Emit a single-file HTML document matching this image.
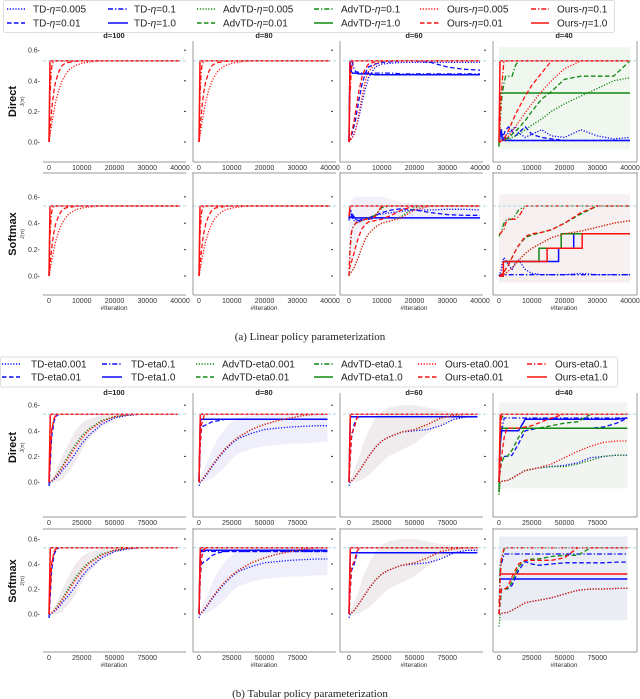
<!DOCTYPE html>
<html><head><meta charset="utf-8"><style>
html,body{margin:0;padding:0;background:#fff;}
svg{display:block;font-family:"Liberation Sans",sans-serif;}
.lg{font-size:10px;fill:#222;}
.tt{font-size:7.5px;font-weight:bold;fill:#222;}
.tk{font-size:7px;fill:#333;}
.cap{font-family:"Liberation Serif",serif;font-size:11px;fill:#222;}
</style></head><body>
<svg id="fig" width="640" height="699" viewBox="0 0 640 699" xmlns="http://www.w3.org/2000/svg">
<rect x="0" y="0" width="640" height="699" fill="#fff"/>
<g id="legendA"></g>
<g id="legendB"></g>
<g id="plots"></g>
<text class="cap" x="310" y="340" text-anchor="middle">(a) Linear policy parameterization</text>
<text class="cap" x="310" y="697" text-anchor="middle">(b) Tabular policy parameterization</text>
</svg>
<script>
// ---------- data: linear (top figure), iterations grid ----------
const GA = [0,300,700,1000,1500,2000,3000,4000,5000,6000,8000,10000,13000,16000,20000,25000,30000,35000,40000];
const L_ours1   = [0,.53,.53,.53,.53,.53,.53,.53,.53,.53,.53,.53,.53,.53,.53,.53,.53,.53,.53];
const L_ours01  = [0,.30,.47,.51,.53,.53,.53,.53,.53,.53,.53,.53,.53,.53,.53,.53,.53,.53,.53];
const L_ours001 = [0,.08,.18,.25,.33,.39,.46,.50,.515,.52,.527,.53,.53,.53,.53,.53,.53,.53,.53];
const L_ours0005= [0,.04,.10,.14,.20,.26,.34,.40,.44,.47,.50,.515,.525,.53,.53,.53,.53,.53,.53];
// d=60 direct
const D60_td1   = [0,.53,.46,.45,.45,.45,.445,.445,.445,.445,.44,.44,.44,.44,.44,.44,.44,.44,.44];
const D60_td01  = [0,.53,.53,.52,.48,.46,.455,.45,.45,.45,.45,.45,.45,.445,.445,.445,.445,.445,.445];
const D60_td001 = [0,.02,.04,.06,.10,.15,.27,.38,.45,.49,.51,.52,.525,.53,.53,.52,.49,.475,.47];
const D60_td0005= [0,.01,.02,.03,.05,.08,.16,.26,.35,.42,.49,.51,.515,.52,.52,.52,.52,.52,.52];
const D60_ours001 = [0,.02,.05,.08,.13,.20,.33,.43,.48,.51,.525,.53,.53,.53,.53,.53,.53,.53,.53];
const D60_ours0005= [0,.01,.02,.03,.05,.08,.18,.30,.40,.46,.51,.525,.53,.53,.53,.53,.53,.53,.53];
// d=40 direct
const D40_ours01 = [0,.10,.30,.40,.53,.53,.53,.53,.53,.53,.53,.53,.53,.53,.53,.53,.53,.53,.53];
const D40_adv01  = [0,.10,.25,.32,.38,.43,.43,.43,.50,.53,.53,.53,.53,.53,.53,.53,.53,.53,.53];
const D40_ours001= [0,0,.01,.01,.02,.04,.08,.13,.18,.22,.30,.37,.45,.53,.53,.53,.53,.53,.53];
const D40_ours0005=[0,0,.01,.01,.01,.02,.04,.07,.10,.13,.19,.25,.33,.40,.48,.53,.53,.53,.53];
const D40_adv001 = [0,0,.01,.01,.01,.02,.03,.05,.07,.09,.14,.20,.28,.33,.41,.43,.43,.43,.53];
const D40_adv0005= [0,0,.01,.01,.01,.01,.02,.03,.04,.05,.08,.11,.15,.20,.25,.30,.35,.40,.42];
const D40_adv1   = [-.03,.32,.32,.32,.32,.32,.32,.32,.32,.32,.32,.32,.32,.32,.32,.32,.32,.32,.32];
const D40_td1    = [0,.05,.08,.02,.01,.01,.01,.01,.01,.01,.01,.01,.01,.01,.01,.01,.01,.01,.01];
const D40_td01   = [0,.08,.05,.02,.02,.03,.02,.01,.01,.01,.01,.01,.01,.01,.01,.01,.01,.01,.01];
const D40_td001  = [0,.03,.06,.04,.05,.08,.10,.07,.04,.06,.10,.05,.03,.02,.01,.01,.01,.01,.01];
const D40_td0005 = [0,.02,.04,.05,.03,.04,.06,.08,.10,.06,.03,.05,.08,.04,.03,.08,.04,.02,.03];
// softmax d=60
const S60_td1    = [.45,.44,.45,.44,.44,.44,.44,.44,.44,.44,.44,.44,.44,.44,.44,.44,.44,.44,.44];
const S60_td01   = [.45,.50,.48,.45,.44,.43,.42,.43,.43,.43,.44,.44,.44,.44,.44,.44,.44,.44,.44];
const S60_td001  = [.43,.50,.49,.47,.45,.43,.42,.42,.43,.44,.46,.48,.50,.51,.50,.48,.465,.46,.46];
const S60_td0005 = [.42,.47,.46,.44,.42,.41,.41,.42,.43,.44,.46,.47,.48,.49,.50,.50,.505,.505,.50];
const S60_ours1  = [.45,.53,.53,.53,.53,.53,.53,.53,.53,.53,.53,.53,.53,.53,.53,.53,.53,.53,.53];
const S60_ours01 = [0,.20,.32,.36,.38,.40,.41,.42,.43,.43,.45,.53,.53,.53,.53,.53,.53,.53,.53];
const S60_adv01  = [0,.20,.32,.36,.38,.40,.41,.42,.43,.44,.46,.52,.53,.53,.53,.53,.53,.53,.53];
const S60_ours001= [.05,.07,.10,.13,.17,.22,.30,.36,.39,.41,.42,.43,.46,.50,.53,.53,.53,.53,.53];
const S60_ours0005=[.01,.02,.03,.04,.06,.09,.15,.22,.28,.32,.37,.40,.42,.44,.50,.53,.53,.53,.53];
const S60_adv0005= [.01,.02,.03,.04,.06,.09,.15,.22,.28,.32,.37,.40,.42,.45,.52,.53,.53,.53,.53];
// softmax d=40 (steps use own x)
const S40_ours1_x = [0,1300,1300,14700,14700,25400,25400,40000];
const S40_ours1_y = [0,0,.11,.11,.21,.21,.32,.32];
const S40_adv1_x  = [0,1300,1300,12200,12200,19000,19000,40000];
const S40_adv1_y  = [0,0,.11,.11,.21,.21,.32,.32];
const S40_td1_x   = [0,1300,1300,18200,18200,22800,22800,25400];
const S40_td1_y   = [0,0,.11,.11,.21,.21,.32,.32];
const S40_td01    = [0,.01,.01,.01,.01,.01,.01,.01,.01,.01,.01,.01,.01,.01,.01,.01,.01,.01,.01];
const S40_td0005  = [0,.02,.05,.10,.14,.12,.08,.05,.10,.12,.05,.02,.01,.01,.01,.02,.01,.01,.01];
const S40_ours01  = [.32,.32,.33,.34,.35,.40,.43,.43,.43,.45,.53,.53,.53,.53,.53,.53,.53,.53,.53];
const S40_adv01   = [.30,.32,.33,.36,.40,.42,.43,.43,.46,.50,.53,.53,.53,.53,.53,.53,.53,.53,.53];
const S40_ours001 = [0,0,.01,.02,.03,.05,.09,.14,.19,.23,.30,.32,.33,.35,.40,.48,.53,.53,.53];
const S40_adv001  = [0,0,.01,.02,.03,.05,.09,.14,.19,.23,.29,.31,.33,.35,.40,.47,.53,.53,.53];
const S40_ours0005= [0,0,0,.01,.01,.02,.04,.06,.09,.12,.17,.21,.25,.29,.32,.34,.37,.40,.42];
// ---------- data: tabular (bottom figure) ----------
const GB = [0,1000,2000,4000,6000,8000,10000,15000,20000,25000,30000,40000,50000,60000,70000,80000,90000,98000];
const T_ours1   = [0,.53,.53,.53,.53,.53,.53,.53,.53,.53,.53,.53,.53,.53,.53,.53,.53,.53];
const T100_dash = [0,.20,.40,.50,.53,.53,.53,.53,.53,.53,.53,.53,.53,.53,.53,.53,.53,.53];
const T100_bdash= [-.03,.15,.35,.48,.52,.53,.53,.53,.53,.53,.53,.53,.53,.53,.53,.53,.53,.53];
const T100_rdot = [0,.005,.01,.03,.05,.08,.11,.19,.27,.34,.40,.47,.51,.525,.53,.53,.53,.53];
const T100_gdot = [0,.005,.01,.03,.06,.09,.12,.21,.29,.36,.41,.48,.51,.525,.53,.53,.53,.53];
const T100_bdot = [-.03,0,.005,.02,.04,.06,.09,.15,.22,.30,.36,.45,.50,.52,.53,.53,.53,.53];
const T80_b1    = [0,.49,.49,.49,.49,.49,.49,.49,.49,.49,.49,.49,.49,.49,.49,.49,.49,.49];
const T80_b01   = [0,.45,.49,.49,.49,.49,.49,.49,.49,.49,.49,.49,.49,.49,.49,.49,.49,.49];
const T80_bdash = [0,.30,.43,.44,.45,.46,.47,.48,.49,.49,.49,.49,.49,.49,.49,.49,.49,.49];
const T80_rdash = [0,.30,.45,.52,.53,.53,.53,.53,.53,.53,.53,.53,.53,.53,.53,.53,.53,.53];
const T80_dot   = [0,.005,.01,.04,.07,.10,.13,.20,.26,.31,.35,.41,.45,.48,.50,.52,.53,.53];
const T80_bdot  = [-.03,0,.01,.03,.06,.09,.12,.19,.25,.30,.34,.38,.41,.42,.43,.435,.44,.44];
const T60_b1    = [0,.51,.51,.51,.51,.51,.51,.51,.51,.51,.51,.51,.51,.51,.51,.51,.51,.51];
const T60_rdash = [0,.20,.38,.42,.50,.53,.53,.53,.53,.53,.53,.53,.53,.53,.53,.53,.53,.53];
const T60_bdash = [0,.20,.35,.45,.50,.51,.51,.51,.51,.51,.51,.51,.51,.51,.51,.51,.51,.51];
const T60_dot   = [0,.005,.01,.03,.06,.09,.12,.20,.27,.32,.35,.39,.41,.45,.50,.52,.53,.53];
const T60_bdot  = [-.03,0,.01,.03,.06,.09,.12,.20,.27,.32,.35,.39,.40,.41,.44,.49,.51,.51];
const T40_g1    = [-.08,.42,.42,.42,.42,.42,.42,.42,.42,.42,.42,.42,.42,.42,.42,.42,.42,.42];
const T40_b1    = [0,.30,.40,.40,.40,.40,.40,.40,.49,.49,.49,.49,.49,.49,.49,.49,.49,.50];
const T40_b01   = [0,.35,.40,.50,.50,.50,.50,.50,.50,.50,.50,.50,.50,.50,.50,.50,.50,.50];
const T40_r01   = [0,.40,.53,.53,.53,.53,.53,.53,.53,.53,.53,.53,.53,.53,.53,.53,.53,.53];
const T40_g01   = [0,.42,.50,.53,.53,.53,.53,.53,.53,.53,.53,.53,.53,.53,.53,.53,.53,.53];
const T40_rdash = [0,.10,.20,.35,.42,.42,.42,.42,.43,.44,.46,.50,.53,.53,.53,.53,.53,.53];
const T40_gdash = [0,.10,.15,.20,.20,.22,.25,.35,.42,.42,.42,.44,.46,.47,.53,.53,.53,.53];
const T40_bdash = [0,.10,.20,.20,.20,.20,.21,.30,.40,.41,.42,.42,.42,.42,.42,.43,.46,.50];
const T40_rdot  = [0,0,.005,.01,.01,.02,.03,.06,.09,.10,.11,.14,.19,.24,.28,.31,.32,.32];
const T40_gdot  = [-.1,0,.005,.01,.01,.02,.03,.06,.09,.10,.11,.12,.12,.14,.17,.20,.21,.21];
const T40_bdot  = [0,0,.005,.01,.01,.02,.03,.06,.09,.10,.11,.12,.13,.15,.19,.20,.21,.21];
const U80_b1    = [0,.51,.51,.51,.51,.51,.51,.51,.51,.51,.51,.51,.51,.51,.51,.51,.51,.51];
const U80_b01   = [0,.45,.50,.50,.50,.50,.50,.50,.50,.50,.50,.50,.50,.50,.50,.50,.50,.50];
const U80_bdash = [0,.30,.40,.42,.43,.45,.47,.49,.50,.50,.50,.50,.50,.50,.50,.50,.50,.50];
const U60_b1    = [0,.49,.49,.49,.49,.49,.49,.49,.49,.49,.49,.49,.49,.49,.49,.49,.49,.49];
const U60_bdash = [0,.20,.35,.40,.48,.49,.49,.49,.49,.49,.49,.49,.49,.49,.49,.49,.49,.49];
const U40_r1    = [.32,.32,.32,.32,.32,.32,.32,.32,.32,.32,.32,.32,.32,.32,.32,.32,.32,.32];
const U40_b1    = [.28,.28,.28,.28,.28,.28,.28,.28,.28,.28,.28,.28,.28,.28,.28,.28,.28,.28];
const U40_b01   = [0,.41,.41,.48,.48,.48,.48,.48,.48,.48,.48,.48,.48,.48,.48,.48,.48,.48];
const U40_r01   = [0,.30,.45,.53,.53,.53,.53,.53,.53,.53,.53,.53,.53,.53,.53,.53,.53,.53];
const U40_g01   = [0,.40,.44,.52,.53,.53,.53,.53,.53,.53,.53,.53,.53,.53,.53,.53,.53,.53];
const U40_rdash = [0,.15,.20,.20,.21,.25,.30,.40,.43,.43,.43,.43,.45,.53,.53,.53,.53,.53];
const U40_gdash = [0,.10,.20,.20,.20,.22,.26,.38,.43,.44,.44,.46,.47,.47,.53,.53,.53,.53];
const U40_bdash = [0,.10,.20,.20,.20,.21,.23,.35,.42,.40,.39,.40,.41,.41,.41,.41,.415,.415];
const U40_dot   = [0,0,.005,.01,.01,.02,.03,.06,.09,.10,.11,.13,.16,.19,.20,.20,.205,.205];
const U40_gdot  = [-.1,0,.005,.01,.01,.02,.03,.06,.09,.10,.11,.13,.16,.19,.20,.20,.205,.205];
// bands
const B100_lo = [0,0,0,0,0,.01,.02,.08,.15,.25,.33,.43,.49,.52,.53,.53,.53,.53];
const B100_hi = [0,.01,.02,.06,.10,.15,.20,.30,.40,.46,.49,.52,.53,.53,.53,.53,.53,.53];
const B80_lo  = [0,0,0,0,.01,.02,.03,.07,.12,.18,.22,.26,.28,.29,.30,.30,.31,.31];
const B80_hi  = [0,.02,.05,.10,.15,.20,.25,.35,.42,.47,.50,.52,.53,.53,.53,.53,.53,.53];
const B60_lo  = [0,0,0,0,0,.01,.02,.05,.10,.15,.20,.25,.30,.38,.45,.48,.50,.50];
const B60_hi  = [0,.02,.04,.10,.15,.20,.28,.40,.50,.55,.58,.60,.60,.58,.56,.54,.53,.53];
const B40_lo  = [-.05,-.05,-.05,-.05,-.05,-.05,-.05,-.05,-.05,-.05,-.05,-.05,-.05,-.05,-.05,-.05,-.05,-.05];
const B40_hi  = [.62,.62,.62,.62,.62,.62,.62,.62,.62,.62,.62,.62,.62,.62,.62,.62,.62,.62];
const BA40_lo = [-.05,-.05,-.05,-.05,-.05,-.05,-.05,-.05,-.05,-.05,-.05,-.05,-.05,-.05,-.05,-.05,-.05,-.05,-.05];
const BA40_hi = [.62,.62,.62,.62,.62,.62,.62,.62,.62,.62,.62,.62,.62,.62,.62,.62,.62,.62,.62];
const BA60_lo = [0,.02,.05,.1,.15,.2,.3,.36,.38,.4,.41,.42,.42,.42,.42,.42,.42,.42,.42];
const BA60_hi = [.45,.5,.55,.58,.6,.6,.6,.6,.6,.6,.6,.6,.58,.56,.55,.54,.54,.54,.54];
const yTicks = [0,0.2,0.4,0.6];
const yTickLabels = ["0.0","0.2","0.4","0.6"];
const xTicksA = [0,10000,20000,30000,40000];
const xTicksB = [0,25000,50000,75000];
const panelTitles = ["d=100","d=80","d=60","d=40"];
const refLevel = 0.53;

// ---------- styles ----------
const BLUE='#0a0aff', GREEN='#118811', RED='#ff1010';
const DASH={dot:'1.2,1.6',dash:'4.5,2.5',dd:'5,2,1.3,2',solid:''};
function S(xs,ys,c,st){return {xs:xs,ys:ys,c:c,st:st};}

const linD100=[S(GA,L_ours0005,RED,'dot'),S(GA,L_ours001,RED,'dash'),S(GA,L_ours01,RED,'dd'),S(GA,L_ours1,RED,'solid')];
const linD60=[S(GA,D60_td0005,BLUE,'dot'),S(GA,D60_td001,BLUE,'dash'),S(GA,D60_td01,BLUE,'dd'),S(GA,D60_td1,BLUE,'solid'),
 S(GA,D60_ours0005,RED,'dot'),S(GA,D60_ours001,RED,'dash'),S(GA,L_ours01,RED,'dd'),S(GA,L_ours1,RED,'solid')];
const linD40=[S(GA,D40_td0005,BLUE,'dot'),S(GA,D40_td001,BLUE,'dash'),S(GA,D40_td01,BLUE,'dd'),S(GA,D40_td1,BLUE,'solid'),
 S(GA,D40_adv0005,GREEN,'dot'),S(GA,D40_adv001,GREEN,'dash'),S(GA,D40_adv01,GREEN,'dd'),S(GA,D40_adv1,GREEN,'solid'),
 S(GA,D40_ours0005,RED,'dot'),S(GA,D40_ours001,RED,'dash'),S(GA,D40_ours01,RED,'dd'),S(GA,L_ours1,RED,'solid')];
const linS60=[S(GA,S60_td0005,BLUE,'dot'),S(GA,S60_td001,BLUE,'dash'),S(GA,S60_td01,BLUE,'dd'),S(GA,S60_td1,BLUE,'solid'),
 S(GA,S60_adv0005,GREEN,'dot'),S(GA,S60_adv01,GREEN,'dd'),
 S(GA,S60_ours0005,RED,'dot'),S(GA,S60_ours001,RED,'dash'),S(GA,S60_ours01,RED,'dd'),S(GA,S60_ours1,RED,'solid')];
const linS40=[S(GA,S40_td0005,BLUE,'dot'),S(GA,S40_td01,BLUE,'dd'),S(S40_td1_x,S40_td1_y,BLUE,'solid'),
 S(GA,S40_ours0005,GREEN,'dot'),S(GA,S40_adv001,GREEN,'dash'),S(GA,S40_adv01,GREEN,'dd'),S(S40_adv1_x,S40_adv1_y,GREEN,'solid'),
 S(GA,S40_ours0005,RED,'dot'),S(GA,S40_ours001,RED,'dash'),S(GA,S40_ours01,RED,'dd'),S(S40_ours1_x,S40_ours1_y,RED,'solid')];
const tab100=[S(GB,T100_bdot,BLUE,'dot'),S(GB,T100_bdash,BLUE,'dash'),S(GB,T100_gdot,GREEN,'dot'),
 S(GB,T100_rdot,RED,'dot'),S(GB,T100_dash,RED,'dash'),S(GB,T100_dash,RED,'dd'),S(GB,T_ours1,RED,'solid')];
const tabD80=[S(GB,T80_bdot,BLUE,'dot'),S(GB,T80_bdash,BLUE,'dash'),S(GB,T80_b01,BLUE,'dd'),S(GB,T80_b1,BLUE,'solid'),
 S(GB,T80_dot,GREEN,'dot'),S(GB,T80_dot,RED,'dot'),S(GB,T80_rdash,RED,'dash'),S(GB,T_ours1,RED,'solid')];
const tabD60=[S(GB,T60_bdot,BLUE,'dot'),S(GB,T60_bdash,BLUE,'dash'),S(GB,T60_b1,BLUE,'solid'),
 S(GB,T60_dot,GREEN,'dot'),S(GB,T60_dot,RED,'dot'),S(GB,T60_rdash,RED,'dash'),S(GB,T_ours1,RED,'solid')];
const tabD40=[S(GB,T40_bdot,BLUE,'dot'),S(GB,T40_bdash,BLUE,'dash'),S(GB,T40_b01,BLUE,'dd'),S(GB,T40_b1,BLUE,'solid'),
 S(GB,T40_gdot,GREEN,'dot'),S(GB,T40_gdash,GREEN,'dash'),S(GB,T40_g01,GREEN,'dd'),S(GB,T40_g1,GREEN,'solid'),
 S(GB,T40_rdot,RED,'dot'),S(GB,T40_rdash,RED,'dash'),S(GB,T40_r01,RED,'dd'),S(GB,T_ours1,RED,'solid')];
const tabS80=[S(GB,T80_bdot,BLUE,'dot'),S(GB,U80_bdash,BLUE,'dash'),S(GB,U80_b01,BLUE,'dd'),S(GB,U80_b1,BLUE,'solid'),
 S(GB,T80_dot,GREEN,'dot'),S(GB,T80_dot,RED,'dot'),S(GB,T80_rdash,RED,'dash'),S(GB,T_ours1,RED,'solid')];
const tabS60=[S(GB,T60_bdot,BLUE,'dot'),S(GB,U60_bdash,BLUE,'dash'),S(GB,U60_b1,BLUE,'solid'),
 S(GB,T60_dot,GREEN,'dot'),S(GB,T60_dot,RED,'dot'),S(GB,T60_rdash,RED,'dash'),S(GB,T_ours1,RED,'solid')];
const tabS40=[S(GB,U40_dot,BLUE,'dot'),S(GB,U40_bdash,BLUE,'dash'),S(GB,U40_b01,BLUE,'dd'),S(GB,U40_b1,BLUE,'solid'),
 S(GB,U40_gdot,GREEN,'dot'),S(GB,U40_gdash,GREEN,'dash'),S(GB,U40_g01,GREEN,'dd'),
 S(GB,U40_dot,RED,'dot'),S(GB,U40_rdash,RED,'dash'),S(GB,U40_r01,RED,'dd'),S(GB,U40_r1,RED,'solid')];

const NS='http://www.w3.org/2000/svg';
const svg=document.getElementById('fig');
const plots=document.getElementById('plots');
function mk(tag,attrs,parent){const e=document.createElementNS(NS,tag);for(const k in attrs)e.setAttribute(k,attrs[k]);(parent||plots).appendChild(e);return e;}

const X0=[49,199,349,499];
const SPL=[43,193,340,493];
const figs=[
 {xmax:40000,xticks:xTicksA,rows:[{y0:142,k:153,top:45,bot:162,name:'Direct'},{y0:276,k:132,top:176,bot:295,name:'Softmax'}],
  titleY:38,extraLine:173,panels:[[linD100,linD100,linD60,linD40],[linD100,linD100,linS60,linS40]],
  bands:[[null,null,null,[GA,BA40_lo,BA40_hi,'#9ccc9c']],[null,null,[GA,BA60_lo,BA60_hi,'#b0a8d8'],[GA,BA40_lo,BA40_hi,'#c8a8a0']]],tag:'linear'},
 {xmax:100000,xticks:xTicksB,rows:[{y0:482,k:128,top:397,bot:517,name:'Direct'},{y0:614,k:125,top:532,bot:652,name:'Softmax'}],
  titleY:395,extraLine:529,panels:[[tab100,tabD80,tabD60,tabD40],[tab100,tabS80,tabS60,tabS40]],
  bands:[[[GB,B100_lo,B100_hi,'#a07890'],[GB,B80_lo,B80_hi,'#9a9aee'],[GB,B60_lo,B60_hi,'#a08890'],[GB,B40_lo,B40_hi,'#a8b8a0']],
         [[GB,B100_lo,B100_hi,'#a07890'],[GB,B80_lo,B80_hi,'#9a9aee'],[GB,B60_lo,B60_hi,'#a08890'],[GB,B40_lo,B40_hi,'#8090c0']]],tag:'tabular'}
];
let clipId=0;
figs.forEach((F,fi)=>{
  const bigTitle = fi===1;
  panelTitles.forEach((t,p)=>{
    const e=mk('text',{x:X0[p]+65,y:F.titleY,'text-anchor':'middle',class:'tt','font-size':bigTitle?'10px':'7.5px'});
    e.textContent=t;
    
    
  });
  F.rows.forEach((R,ri)=>{
    const yv=v=>R.y0-v*R.k;
    // row label
    const rl=mk('text',{x:0,y:0,transform:'translate(16,'+((R.y0+R.top)/2+8)+') rotate(-90)','text-anchor':'middle','font-size':'11px','font-weight':'bold',fill:'#111'});
    rl.textContent=R.name;
    
    
    const jl=mk('text',{x:0,y:0,transform:'translate(24,'+((R.y0+R.top)/2+8)+') rotate(-90)','text-anchor':'middle','font-size':'5.5px',fill:'#333'});
    jl.textContent='J(π)';
    
    
    for(let p=0;p<4;p++){
      const x0=X0[p], sc=131/F.xmax;
      const xv=v=>x0+v*sc;
      const g=mk('g',{});
      
      
      const cid='c'+(clipId++);
      const cp=mk('clipPath',{id:cid},g);
      mk('rect',{x:SPL[p],y:R.top,width:(p==3?637:SPL[p]+143)-SPL[p],height:R.bot-R.top},cp);
      const inner=mk('g',{'clip-path':'url(#'+cid+')'},g);
      // band
      const B=F.bands[ri][p];
      if(B){
        let d='';
        B[0].forEach((x,i)=>{d+=(i?'L':'M')+xv(x).toFixed(1)+','+yv(B[2][i]).toFixed(1);});
        for(let i=B[0].length-1;i>=0;i--) d+='L'+xv(B[0][i]).toFixed(1)+','+yv(B[1][i]).toFixed(1);
        const bp=mk('path',{d:d+'Z',fill:B[3],'fill-opacity':0.16,stroke:'none'},inner);
        
        
      }
      // reference line
      const rf=mk('line',{x1:x0-6,x2:x0+137,y1:yv(refLevel),y2:yv(refLevel),stroke:'#add8e6','stroke-width':1,'stroke-dasharray':'3,2'},g);
      
      
      // series
      F.panels[ri][p].forEach(s=>{
        let d='';
        s.xs.forEach((x,i)=>{d+=(i?'L':'M')+xv(x).toFixed(1)+','+yv(s.ys[i]).toFixed(1);});
        const pa=mk('path',{d:d,fill:'none',stroke:s.c,'stroke-width':s.st==='solid'?1.5:1.3,'stroke-dasharray':DASH[s.st],'stroke-linejoin':'round'},inner);
        
        
      });
      // spines
      const right=(p==3)?637:SPL[p]+143;
      mk('line',{x1:SPL[p],x2:right,y1:R.bot,y2:R.bot,stroke:'#999','stroke-width':1},g);
      if(p>0) mk('line',{x1:SPL[p],x2:SPL[p],y1:R.top-4,y2:R.bot,stroke:'#999','stroke-width':1},g);
      if(p==3) mk('line',{x1:637,x2:637,y1:R.top-4,y2:R.bot,stroke:'#999','stroke-width':1},g);
      if(ri===0) mk('line',{x1:SPL[p],x2:right,y1:F.extraLine,y2:F.extraLine,stroke:'#999','stroke-width':1},g);
      // y ticks
      yTicks.forEach((v,i)=>{
        if(p===0){
          const tl=mk('text',{x:40,y:yv(v)+2.5,'text-anchor':'end',class:'tk'},g);
          tl.textContent=yTickLabels[i]+'-';
          
          
        } else {
          mk('line',{x1:SPL[p]-9,x2:SPL[p]-7,y1:yv(v),y2:yv(v),stroke:'#333','stroke-width':1},g);
        }
      });
      // x ticks
      F.xticks.forEach(v=>{
        const tx=mk('text',{x:xv(v),y:R.bot+8,'text-anchor':'middle',class:'tk'},g);
        tx.textContent=String(v);
        
        
      });
      if(ri===1){
        const xt=mk('text',{x:x0+65,y:R.bot+15,'text-anchor':'middle','font-size':'6.5px',fill:'#333'},g);
        xt.textContent='#Iteration';
        
        
      }
    }
  });
});

// ---------- legends ----------
const legAcols=[[7,25,33],[108,128,134],[197,215,223],[314,333,341],[420,439,447],[531,549,557]];
const legAlabels=[['TD-','0.005','dot',BLUE],['TD-','0.01','dash',BLUE],['TD-','0.1','dd',BLUE],['TD-','1.0','solid',BLUE],
 ['AdvTD-','0.005','dot',GREEN],['AdvTD-','0.01','dash',GREEN],['AdvTD-','0.1','dd',GREEN],['AdvTD-','1.0','solid',GREEN],
 ['Ours-','0.005','dot',RED],['Ours-','0.01','dash',RED],['Ours-','0.1','dd',RED],['Ours-','1.0','solid',RED]];
const legBlabels=[['TD-eta0.001','dot',BLUE],['TD-eta0.01','dash',BLUE],['TD-eta0.1','dd',BLUE],['TD-eta1.0','solid',BLUE],
 ['AdvTD-eta0.001','dot',GREEN],['AdvTD-eta0.01','dash',GREEN],['AdvTD-eta0.1','dd',GREEN],['AdvTD-eta1.0','solid',GREEN],
 ['Ours-eta0.001','dot',RED],['Ours-eta0.01','dash',RED],['Ours-eta0.1','dd',RED],['Ours-eta1.0','solid',RED]];
const LA=document.getElementById('legendA'), LB=document.getElementById('legendB');
mk('rect',{x:3.5,y:0.5,width:611,height:32,rx:2,fill:'#fff',stroke:'#ddd'},LA);
mk('rect',{x:0.5,y:357,width:617,height:30,rx:2,fill:'#fff',stroke:'#ddd'},LB);
const legBcols=[[2,20,31],[102,122,131],[196,214,222],[314,333,341],[418,437,445],[527,547,555]];
legAlabels.forEach((L,i)=>{
  const c=legAcols[Math.floor(i/2)], y=(i%2)?23:9;
  const g=mk('g',{},LA);
  
  
  mk('line',{x1:c[0],x2:c[1],y1:y,y2:y,stroke:L[3],'stroke-width':1.5,'stroke-dasharray':DASH[L[2]]},g);
  const t=mk('text',{x:c[2],y:y+3.5,class:'lg'},g);
  t.appendChild(document.createTextNode(L[0]));
  const it=mk('tspan',{'font-style':'italic'},t); it.textContent='η';
  t.appendChild(document.createTextNode('='+L[1]));
});
legBlabels.forEach((L,i)=>{
  const c=legBcols[Math.floor(i/2)], y=(i%2)?377:364;
  const g=mk('g',{},LB);
  
  
  mk('line',{x1:c[0],x2:c[1],y1:y,y2:y,stroke:L[2],'stroke-width':1.5,'stroke-dasharray':DASH[L[1]]},g);
  const t=mk('text',{x:c[2],y:y+3.5,class:'lg'},g);
  t.textContent=L[0];
});
</script>
</body></html>
